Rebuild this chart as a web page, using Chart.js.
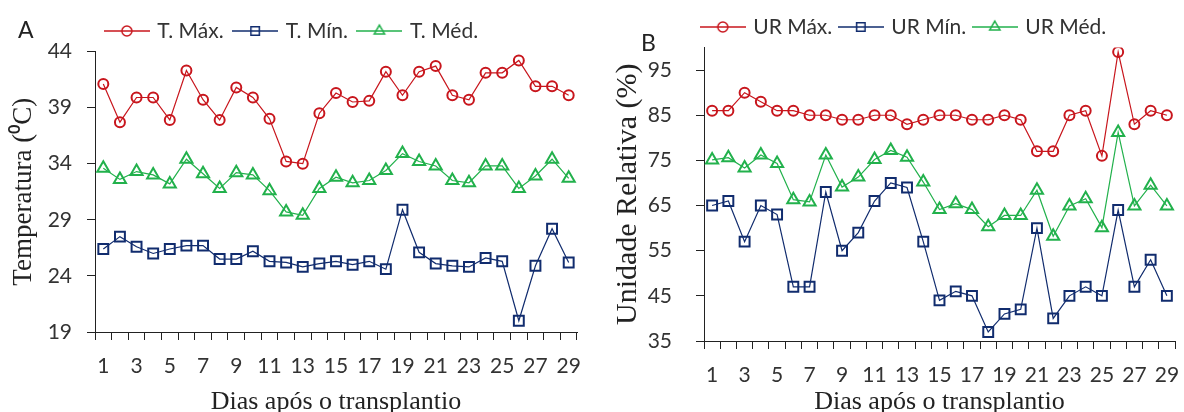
<!DOCTYPE html>
<html>
<head>
<meta charset="utf-8">
<script src="https://cdn.jsdelivr.net/npm/chart.js@4.4.1/dist/chart.umd.min.js"></script>
<style>
  html, body { margin: 0; padding: 0; background: #fff; overflow: hidden; }
  .wrap { position: absolute; top: 0; width: 592px; height: 412px; }
  #wrapA { left: 0; }
  #wrapB { left: 592px; }
  .panel { position: absolute; font-family: Lato, "Liberation Sans", sans-serif; font-size: 23px; color: #222; line-height: 1; }
</style>
</head>
<body>
<div class="wrap" id="wrapA"><canvas id="chartTemp"></canvas></div>
<div class="wrap" id="wrapB"><canvas id="chartUR"></canvas></div>
<div class="panel" style="left:18px;top:18px">A</div>
<div class="panel" style="left:641px;top:31px">B</div>
<script>
// days after transplanting
const dias = ['1','2','3','4','5','6','7','8','9','10','11','12','13','14','15',
  '16','17','18','19','20','21','22','23','24','25','26','27','28','29'];

// air temperature (°C)
const tMax = [41.1, 37.7, 39.9, 39.9, 37.9, 42.3, 39.7, 37.9, 40.8, 39.9, 38.0, 34.2, 34.0, 38.5, 40.3,
  39.5, 39.6, 42.2, 40.1, 42.2, 42.7, 40.1, 39.7, 42.1, 42.1, 43.2, 40.9, 40.9, 40.1];
const tMin = [26.4, 27.5, 26.6, 26.0, 26.4, 26.7, 26.7, 25.5, 25.5, 26.2, 25.3, 25.2, 24.8, 25.1, 25.3,
  25.0, 25.3, 24.6, 29.9, 26.1, 25.1, 24.9, 24.8, 25.6, 25.3, 20.0, 24.9, 28.2, 25.2];
const tMed = [33.6, 32.6, 33.3, 33.0, 32.2, 34.4, 33.1, 31.8, 33.2, 33.0, 31.6, 29.7, 29.4, 31.8, 32.8,
  32.3, 32.5, 33.4, 34.9, 34.2, 33.8, 32.5, 32.3, 33.8, 33.8, 31.8, 32.9, 34.4, 32.7];

// relative humidity (%)
const urMax = [86, 86, 90, 88, 86, 86, 85, 85, 84, 84, 85, 85, 83, 84, 85,
  85, 84, 84, 85, 84, 77, 77, 85, 86, 76, 99, 83, 86, 85];
const urMin = [65, 66, 57, 65, 63, 47, 47, 68, 55, 59, 66, 70, 69, 57, 44,
  46, 45, 37, 41, 42, 60, 40, 45, 47, 45, 64, 47, 53, 45];
const urMed = [75.1, 75.6, 73.3, 76.2, 74.3, 66.3, 65.8, 76.2, 69.1, 71.3, 75.2, 77.2, 75.7, 70.2, 64.1,
  65.4, 64.1, 60.3, 62.8, 62.8, 68.4, 58.2, 64.9, 66.5, 60.1, 81.2, 64.9, 69.5, 64.9];

const tTicks = [19, 24, 29, 34, 39, 44];
const urTicks = [35, 45, 55, 65, 75, 85, 95];

const RED = '#C8161D';
const BLUE = '#112C6E';
const GREEN = '#22B14C';
const INK = '#333';

const sansFont = 'Lato, "Liberation Sans", sans-serif';
const serifFont = '"Liberation Serif", "Times New Roman", serif';

// little line + marker icon, like a spreadsheet legend
function legendIcon(color, style, r) {
  const c = document.createElement('canvas');
  c.width = 46; c.height = 16;
  const ctx = c.getContext('2d');
  ctx.strokeStyle = color;
  ctx.lineWidth = 1.5;
  ctx.beginPath(); ctx.moveTo(0, 8); ctx.lineTo(46, 8); ctx.stroke();
  ctx.fillStyle = 'rgba(0,0,0,0)';
  Chart.helpers.drawPoint(ctx, { pointStyle: style, radius: r, borderWidth: 1.5, rotation: 0 }, 23, 8);
  return c;
}

function serie(label, data, color, style, radius) {
  return {
    label, data,
    borderColor: color,
    backgroundColor: 'rgba(0,0,0,0)',
    borderWidth: 1.2,
    pointStyle: style,
    pointRadius: radius,
    pointBorderWidth: 2,
    pointBorderColor: color,
    pointBackgroundColor: 'rgba(0,0,0,0)',
    tension: 0,
    icon: legendIcon(color, style, style === 'circle' ? 5 : 6)
  };
}

function buildOptions(cfg) {
  return {
    responsive: true,
    maintainAspectRatio: false,
    animation: false,
    layout: { padding: cfg.padding },
    plugins: {
      tooltip: { enabled: false },
      legend: {
        position: 'top',
        labels: {
          usePointStyle: true,
          pointStyleWidth: 40,
          padding: cfg.legendPad,
          color: INK,
          font: { family: sansFont, size: 21 },
          generateLabels(chart) {
            const items = Chart.defaults.plugins.legend.labels.generateLabels(chart);
            items.forEach(it => { it.pointStyle = chart.data.datasets[it.datasetIndex].icon; });
            return items;
          }
        }
      }
    },
    scales: {
      x: {
        type: 'category',
        offset: true,
        afterFit(s) {
          s.height = cfg.xHeight;
          // labels sit on category centres, no need for side padding
          s.paddingLeft = 0;
          s.paddingRight = 0;
        },
        grid: { offset: true, drawOnChartArea: false, tickLength: 8, color: '#222' },
        border: { display: true, color: '#222', width: 1 },
        ticks: {
          autoSkip: false, maxRotation: 0, color: INK, padding: cfg.xPad,
          font: { family: sansFont, size: 21 },
          callback(value, index) { return index % 2 === 0 ? this.getLabelForValue(value) : ''; }
        },
        title: {
          display: true, text: 'Dias após o transplantio', color: '#222',
          font: { family: serifFont, size: 26, lineHeight: 1 },
          padding: { top: 0, bottom: cfg.xTitlePad }
        }
      },
      y: {
        min: cfg.min, max: cfg.max,
        afterFit(s) { s.width = cfg.yWidth; },
        afterBuildTicks(s) { s.ticks = cfg.ticks.map(v => ({ value: v })); },
        grid: { drawOnChartArea: false, tickLength: 8, color: '#222' },
        border: { display: true, color: '#222', width: 1 },
        ticks: { color: INK, padding: cfg.yPad, font: { family: sansFont, size: 21 } },
        title: {
          display: true, text: cfg.yTitle, color: '#222',
          font: { family: serifFont, size: cfg.yTitleSize, lineHeight: 1 },
          padding: { top: cfg.yTitlePad, bottom: 0 }
        }
      }
    }
  };
}

new Chart(document.getElementById('chartTemp'), {
  type: 'line',
  data: {
    labels: dias,
    datasets: [
      serie('T. Máx.', tMax, RED, 'circle', 5),
      serie('T. Mín.', tMin, BLUE, 'rect', 7),
      serie('T. Méd.', tMed, GREEN, 'triangle', 7)
    ]
  },
  options: buildOptions({
    padding: { left: 8, right: 15, top: 9, bottom: 0 },
    legendPad: 11.5,
    yWidth: 87, xHeight: 80, xPad: 14, xTitlePad: -3, yPad: 15,
    yTitleSize: 27, yTitlePad: 2,
    min: 19, max: 44, ticks: tTicks, yTitle: 'Temperatura (⁰C)'
  })
});

new Chart(document.getElementById('chartUR'), {
  type: 'line',
  data: {
    labels: dias,
    datasets: [
      serie('UR Máx.', urMax, RED, 'circle', 5),
      serie('UR Mín.', urMin, BLUE, 'rect', 7),
      serie('UR Méd.', urMed, GREEN, 'triangle', 7)
    ]
  },
  options: buildOptions({
    padding: { left: 41, right: 8, top: 8, bottom: 0 },
    legendPad: 8.5,
    yWidth: 71, xHeight: 71, xPad: 14, xTitlePad: -3, yPad: 24,
    yTitleSize: 30, yTitlePad: -20,
    min: 35, max: 100, ticks: urTicks, yTitle: 'Unidade Relativa (%)'
  })
});
</script>
</body>
</html>
